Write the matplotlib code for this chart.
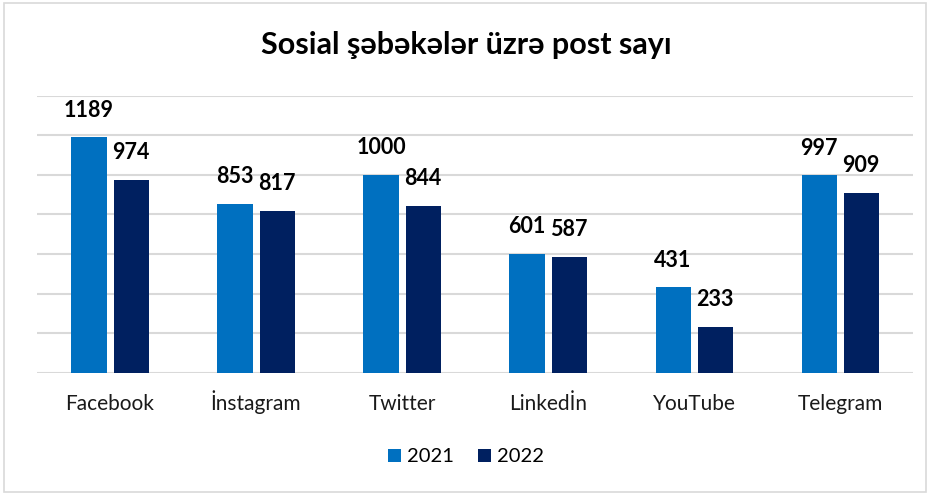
import matplotlib.pyplot as plt
import numpy as np
from matplotlib.patches import Rectangle

plt.rcParams['font.family'] = ['Lato', 'DejaVu Sans']

categories = ["Facebook", "İnstagram", "Twitter", "Linkedİn", "YouTube", "Telegram"]
posts_2021 = [1189, 853, 1000, 601, 431, 997]
posts_2022 = [974, 817, 844, 587, 233, 909]

c2021 = "#0070C0"
c2022 = "#002060"

fig = plt.figure(figsize=(9.32, 4.95), dpi=100)
ax = fig.add_axes([0.0397, 0.247, 0.94, 0.5597])

x = np.arange(len(categories))
w = 0.24
off = 0.144
b1 = ax.bar(x - off, posts_2021, w, color=c2021, label="2021", zorder=3)
b2 = ax.bar(x + off, posts_2022, w, color=c2022, label="2022", zorder=3)

for bars in (b1, b2):
    for r in bars:
        ax.annotate(f"{int(r.get_height())}", (r.get_x() + r.get_width() / 2, r.get_height()),
                    xytext=(0, 12), textcoords="offset points", ha="center", va="bottom",
                    fontsize=15.5, fontweight="bold", color="black")

ax.set_xlim(-0.5, len(categories) - 0.5)
ax.set_ylim(0, 1400)
ax.set_yticks(np.arange(0, 1401, 200))
ax.set_yticklabels([])
ax.tick_params(axis="y", length=0)
ax.tick_params(axis="x", length=0, pad=27, labelsize=15)
ax.set_xticks(x)
ax.set_xticklabels(categories, color="#1a1a1a")
for t in ax.get_xticklabels():
    t.set_va("baseline")
ax.grid(axis="y", color="#D9D9D9", linewidth=1.5, zorder=0)
for s in ax.spines.values():
    s.set_visible(False)

fig.text(0.5, 0.91, "Sosial şəbəkələr üzrə post sayı", ha="center", va="center",
         fontsize=22, fontweight="bold")

fig.legend(loc="center", bbox_to_anchor=(0.5, 0.077), ncol=2, frameon=False,
           fontsize=14.5, handlelength=0.65, handleheight=0.65, handletextpad=0.3,
           columnspacing=1.2)

fig.patches.append(Rectangle((0.004, 0.006), 0.99, 0.988, transform=fig.transFigure,
                             fill=False, edgecolor="#D9D9D9", linewidth=1.2))

fig.savefig("out.png", dpi=100)
